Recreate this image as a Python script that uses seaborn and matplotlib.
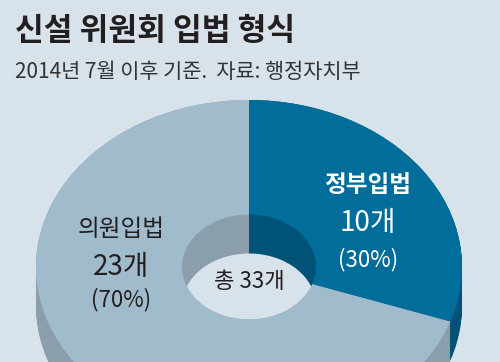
import numpy as np
import matplotlib
matplotlib.use("Agg")
import matplotlib.pyplot as plt
import seaborn as sns

# data
labels = ["정부입법", "의원입법"]
counts = [10, 23]
shares = ["(30%)", "(70%)"]
total = sum(counts)

title = "신설 위원회 입법 형식"
subtitle = "2014년 7월 이후 기준.  자료: 행정자치부"

sns.set_style("white")
plt.rcParams["font.family"] = ["Noto Sans CJK KR", "DejaVu Sans"]

bg = "#d7e2ea"
top_colors = ["#006d9a", "#a0bccc"]
wall_colors = ["#005277", "#8a9eab"]

W, H = 500, 362
fig = plt.figure(figsize=(5.0, 3.62), dpi=100, facecolor=bg)
ax = fig.add_axes([0, 0, 1, 1])
ax.set_facecolor(bg)

# pixel geometry of the tilted donut
cx, cy = 249, 267      # centre of top face (px)
rx, ry = 213, 167      # outer radii (px)
depth = 39 / ry        # wall height in y units
ring = 1 - 67 / rx     # ring width

# side walls: stacked copies shifted down
for off in np.linspace(depth, 0, 30):
    ax.pie(counts, colors=wall_colors, startangle=90, counterclock=False,
           center=(0, -off), radius=1, frame=True,
           wedgeprops=dict(width=ring, edgecolor="none", linewidth=0))

# top face
ax.pie(counts, colors=top_colors, startangle=90, counterclock=False,
       center=(0, 0), radius=1, frame=True,
       wedgeprops=dict(width=ring, edgecolor="none", linewidth=0))

ax.set_aspect("auto")
ax.set_xlim(-cx / rx, (W - cx) / rx)
ax.set_ylim(-(H - cy) / ry, cy / ry)
ax.axis("off")


def px(x, y):
    return x / W, 1 - y / H


fig.text(*px(15, 31), title, fontsize=22.5, fontweight="bold",
         color="#231f20", va="center", ha="left")
fig.text(*px(15, 72), subtitle, fontsize=15, color="#333333",
         va="center", ha="left")

# slice labels
fig.text(*px(368, 185), labels[0], fontsize=17, fontweight="bold",
         color="white", ha="center", va="center")
fig.text(*px(368, 223), f"{counts[0]}개", fontsize=20,
         color="white", ha="center", va="center")
fig.text(*px(368, 260), shares[0], fontsize=16, color="white",
         ha="center", va="center")

fig.text(*px(121, 229), labels[1], fontsize=17, color="#231f20",
         ha="center", va="center")
fig.text(*px(121, 267), f"{counts[1]}개", fontsize=20, color="#231f20",
         ha="center", va="center")
fig.text(*px(121, 300), shares[1], fontsize=16, color="#231f20",
         ha="center", va="center")

fig.text(*px(249, 281), f"총 {total}개", fontsize=16, color="#231f20",
         ha="center", va="center")

fig.savefig("out.png", dpi=100, facecolor=bg)
